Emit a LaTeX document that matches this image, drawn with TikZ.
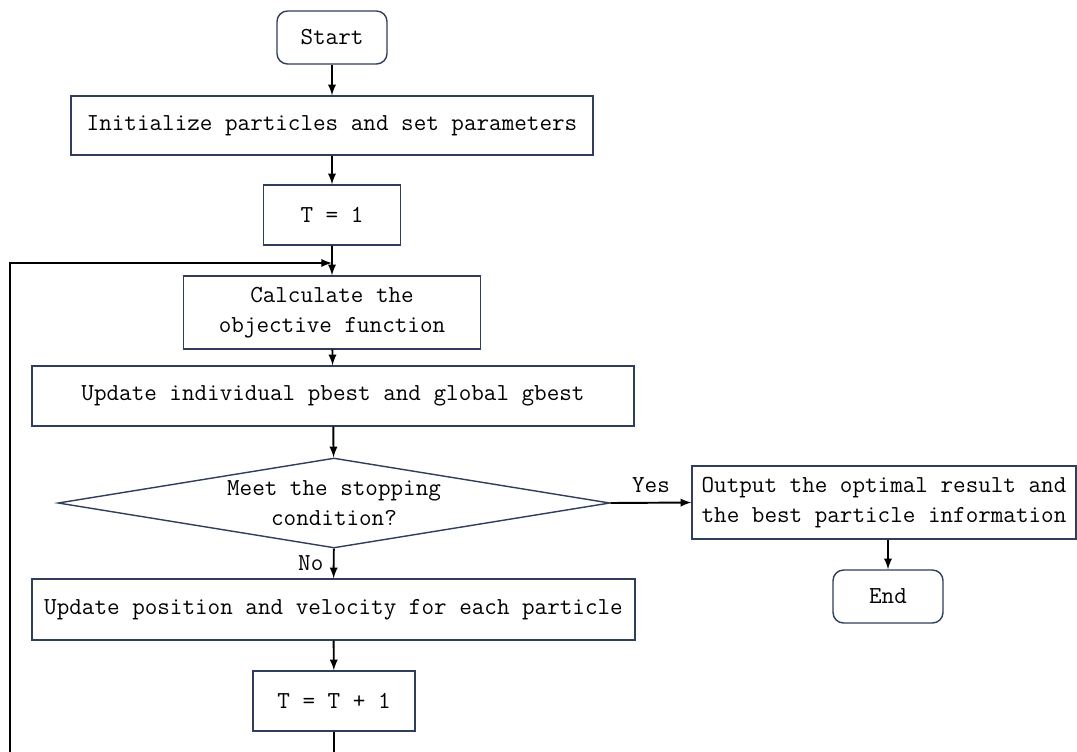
\documentclass[tikz,border=0pt]{standalone}
\usetikzlibrary{arrows,shapes.geometric,positioning}
\definecolor{boxline}{RGB}{47,62,90}

\begin{document}
\begin{tikzpicture}[x=0.02cm,y=-0.02cm,
  font=\ttfamily\fontsize{13.9}{17}\selectfont,
  box/.style={draw=boxline,line width=0.8pt,fill=white,align=center,inner sep=0pt},
  term/.style={box,rounded corners=6pt},
  flow/.style={-latex,line width=1.1pt}]
\useasboundingbox (0,0) rectangle (1077,751);
\clip (0,0) rectangle (1077,751);
% the main column
\node[term,minimum width=2.2cm,minimum height=1.06cm] (start) at (332,37.5) {Start};
\node[box,minimum width=10.44cm,minimum height=1.18cm] (init) at (332,125.5) {Initialize particles and set parameters};
\node[box,minimum width=2.74cm,minimum height=1.2cm] (tone) at (332,215) {T = 1};
\node[box,minimum width=5.94cm,minimum height=1.46cm] (calc) at (332,312.5) {Calculate the\\objective function};
\node[box,minimum width=12.04cm,minimum height=1.2cm] (best) at (333,396) {Update individual pbest and global gbest};
\node[box,diamond,aspect=6.1,minimum width=11.04cm,minimum height=1.8cm] (stop) at (334,503) {Meet the stopping\\condition?};
\node[box,minimum width=12.06cm,minimum height=1.22cm] (move) at (333.5,609.5) {Update position and velocity for each particle};
\node[box,minimum width=3.24cm,minimum height=1.2cm] (tinc) at (334,701) {T = T + 1};
% the exit branch
\node[box,minimum width=7.68cm,minimum height=1.46cm] (out) at (884,502.5) {Output the optimal result and\\the best particle information};
\node[term,minimum width=2.2cm,minimum height=1.06cm] (end) at (888,596.5) {End};
% the connectors
\draw[flow] (start) -- (init);
\draw[flow] (init) -- (tone);
\draw[flow] (tone) -- (calc);
\draw[flow] (calc) -- (best);
\draw[flow] (best) -- (stop);
\draw[flow] (stop) -- node[left,xshift=-2pt] {No} (move);
\draw[flow] (move) -- (tinc);
\draw[flow] (stop.east) -- node[above,yshift=2pt] {Yes} (out.west);
\draw[flow] (out.south -| end) -- (end);
% the loop back
\coordinate (loopdn) at (334,790);
\coordinate (loopup) at (10,263);
\coordinate (merge) at (332,263);
\draw[flow] (tinc) -- (loopdn) -| (loopup) -- (merge);
\end{tikzpicture}
\end{document}
